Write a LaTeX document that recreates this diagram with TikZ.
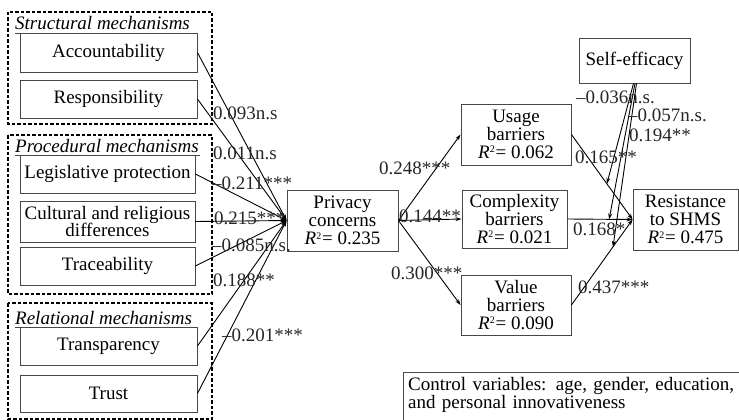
\documentclass[tikz,border=0pt]{standalone}
\usepackage{fontspec}
\setmainfont{Liberation Serif}
\usetikzlibrary{arrows.meta,calc}
\newcommand{\rsq}[1]{\textit{R}\raisebox{0.62ex}{\fontsize{10}{10}\selectfont 2}\kern0.8pt= #1}
\begin{document}
\begin{tikzpicture}[x=1pt,y=-1pt,
  every node/.style={font=\fontsize{19}{17.8}\selectfont, inner sep=0pt},
  var/.style={draw=black!72, line width=0.9pt, align=center},
  grp/.style={draw=black, line width=1.2pt, dash pattern=on 3.5pt off 2pt},
  uline/.style={draw=black!72, line width=0.9pt},
  arr/.style={draw=black, line width=0.9pt, -{Stealth[length=6pt,width=4pt]}},
  coef/.style={anchor=west, text=black!85}
]
\path[use as bounding box] (0,0) rectangle (739,420);
\clip (0,0) rectangle (739,420);

% mechanism groups
\draw[grp] (8,12) rectangle (212,124);
\draw[grp] (8,135) rectangle (212,294);
\draw[grp] (8,303) rectangle (212,419);

\node[anchor=base west] (tstr) at (15,30) {\itshape Structural mechanisms};
\node[anchor=base west] (tpro) at (15,152) {\itshape Procedural mechanisms};
\node[anchor=base west] (trel) at (15,324) {\itshape Relational mechanisms};
\draw[uline] (15,33) -- (197,33);
\draw[uline] (15,155) -- (200,155);
\draw[uline] (15,327) -- (197,327);

% antecedents
\node[var, minimum width=177pt, minimum height=39pt] (acc) at (108.5,52.5) {Accountability};
\node[var, minimum width=177pt, minimum height=38pt] (res) at (108.5,99) {Responsibility};
\node[var, minimum width=175pt, minimum height=38pt] (leg) at (107.5,174) {Legislative protection};
\node[var, minimum width=175pt, minimum height=41pt] (cul) at (107.5,221.5) {Cultural and religious\\differences};
\node[var, minimum width=175pt, minimum height=38pt] (tra) at (107.5,266) {Traceability};
\node[var, minimum width=177pt, minimum height=38pt] (tsp) at (108.5,346) {Transparency};
\node[var, minimum width=177pt, minimum height=37pt] (tru) at (108.5,393.5) {Trust};

% mediators and outcome
\node[var, minimum width=111pt, minimum height=61pt] (pc) at (342.5,220.5) {Privacy\\concerns\\\rsq{0.235}};
\node[var, minimum width=110pt, minimum height=61pt] (ub) at (516,134.5) {Usage\\barriers\\\rsq{0.062}};
\node[var, minimum width=105pt, minimum height=58pt] (cb) at (514.5,219) {Complexity\\barriers\\\rsq{0.021}};
\node[var, minimum width=110pt, minimum height=60pt] (vb) at (516,305) {Value\\barriers\\\rsq{0.090}};
\node[var, minimum width=105pt, minimum height=61pt] (rs) at (685.5,219.5) {Resistance\\to SHMS\\\rsq{0.475}};
\node[var, minimum width=111pt, minimum height=45pt] (se) at (634.5,60.5) {Self-efficacy};

% control variables
\node[anchor=north west, align=left, text width=330pt, font=\fontsize{19}{16}\selectfont] (ctrl) at (408,377)
  {Control variables: age, gender, education,\\and personal innovativeness};
\draw[uline] (403,425) |- (745,372);

% paths into privacy concerns
\draw[arr] (acc.east) -- (pc.west);
\draw[arr] (res.east) -- (pc.west);
\draw[arr] (leg.east) -- (pc.west);
\draw[arr] (cul.east) -- (pc.west);
\draw[arr] (tra.east) -- (pc.west);
\draw[arr] (tsp.east) -- (pc.west);
\draw[arr] (tru.east) -- (pc.west);

% paths into barriers
\draw[arr] (pc.east) -- (ub.west);
\draw[arr] (pc.east) -- (cb.west);
\draw[arr] (pc.east) -- (vb.west);

% paths into resistance
\draw[arr] (ub.east) -- (rs.west);
\draw[arr] (cb.east) -- (rs.west);
\draw[arr] (vb.east) -- (rs.west);

% moderation by self-efficacy
\coordinate (m1) at ($(ub.east)!0.58!(rs.west)$);
\coordinate (m2) at ($(cb.east)!0.64!(rs.west)$);
\coordinate (m3) at ($(vb.east)!0.68!(rs.west)$);
\draw[arr] ($(se.south)+(-1,0)$) -- (m1);
\draw[arr] ($(se.south)+(0.5,0)$) -- (m2);
\draw[arr] ($(se.south)+(2,0)$) -- (m3);

% coefficients
\node[coef] at (213,113) {0.093n.s};
\node[coef] at (213,153) {0.011n.s};
\node[coef] at (212,183) {–0.211***};
\node[coef] at (214,218) {0.215***};
\node[coef] at (212,245) {–0.085n.s.};
\node[coef] at (213,280) {0.188**};
\node[coef] at (222,335) {–0.201***};

\node[coef] at (379,168) {0.248***};
\node[coef] at (399,216) {0.144**};
\node[coef] at (391,273) {0.300***};

\node[coef] at (576,97) {–0.036n.s.};
\node[coef] at (628,115) {–0.057n.s.};
\node[coef] at (629,135) {0.194**};
\node[coef] at (575,157) {0.165**};
\node[coef] at (573,229) {0.168*};
\node[coef] at (578,287) {0.437***};
\end{tikzpicture}
\end{document}
